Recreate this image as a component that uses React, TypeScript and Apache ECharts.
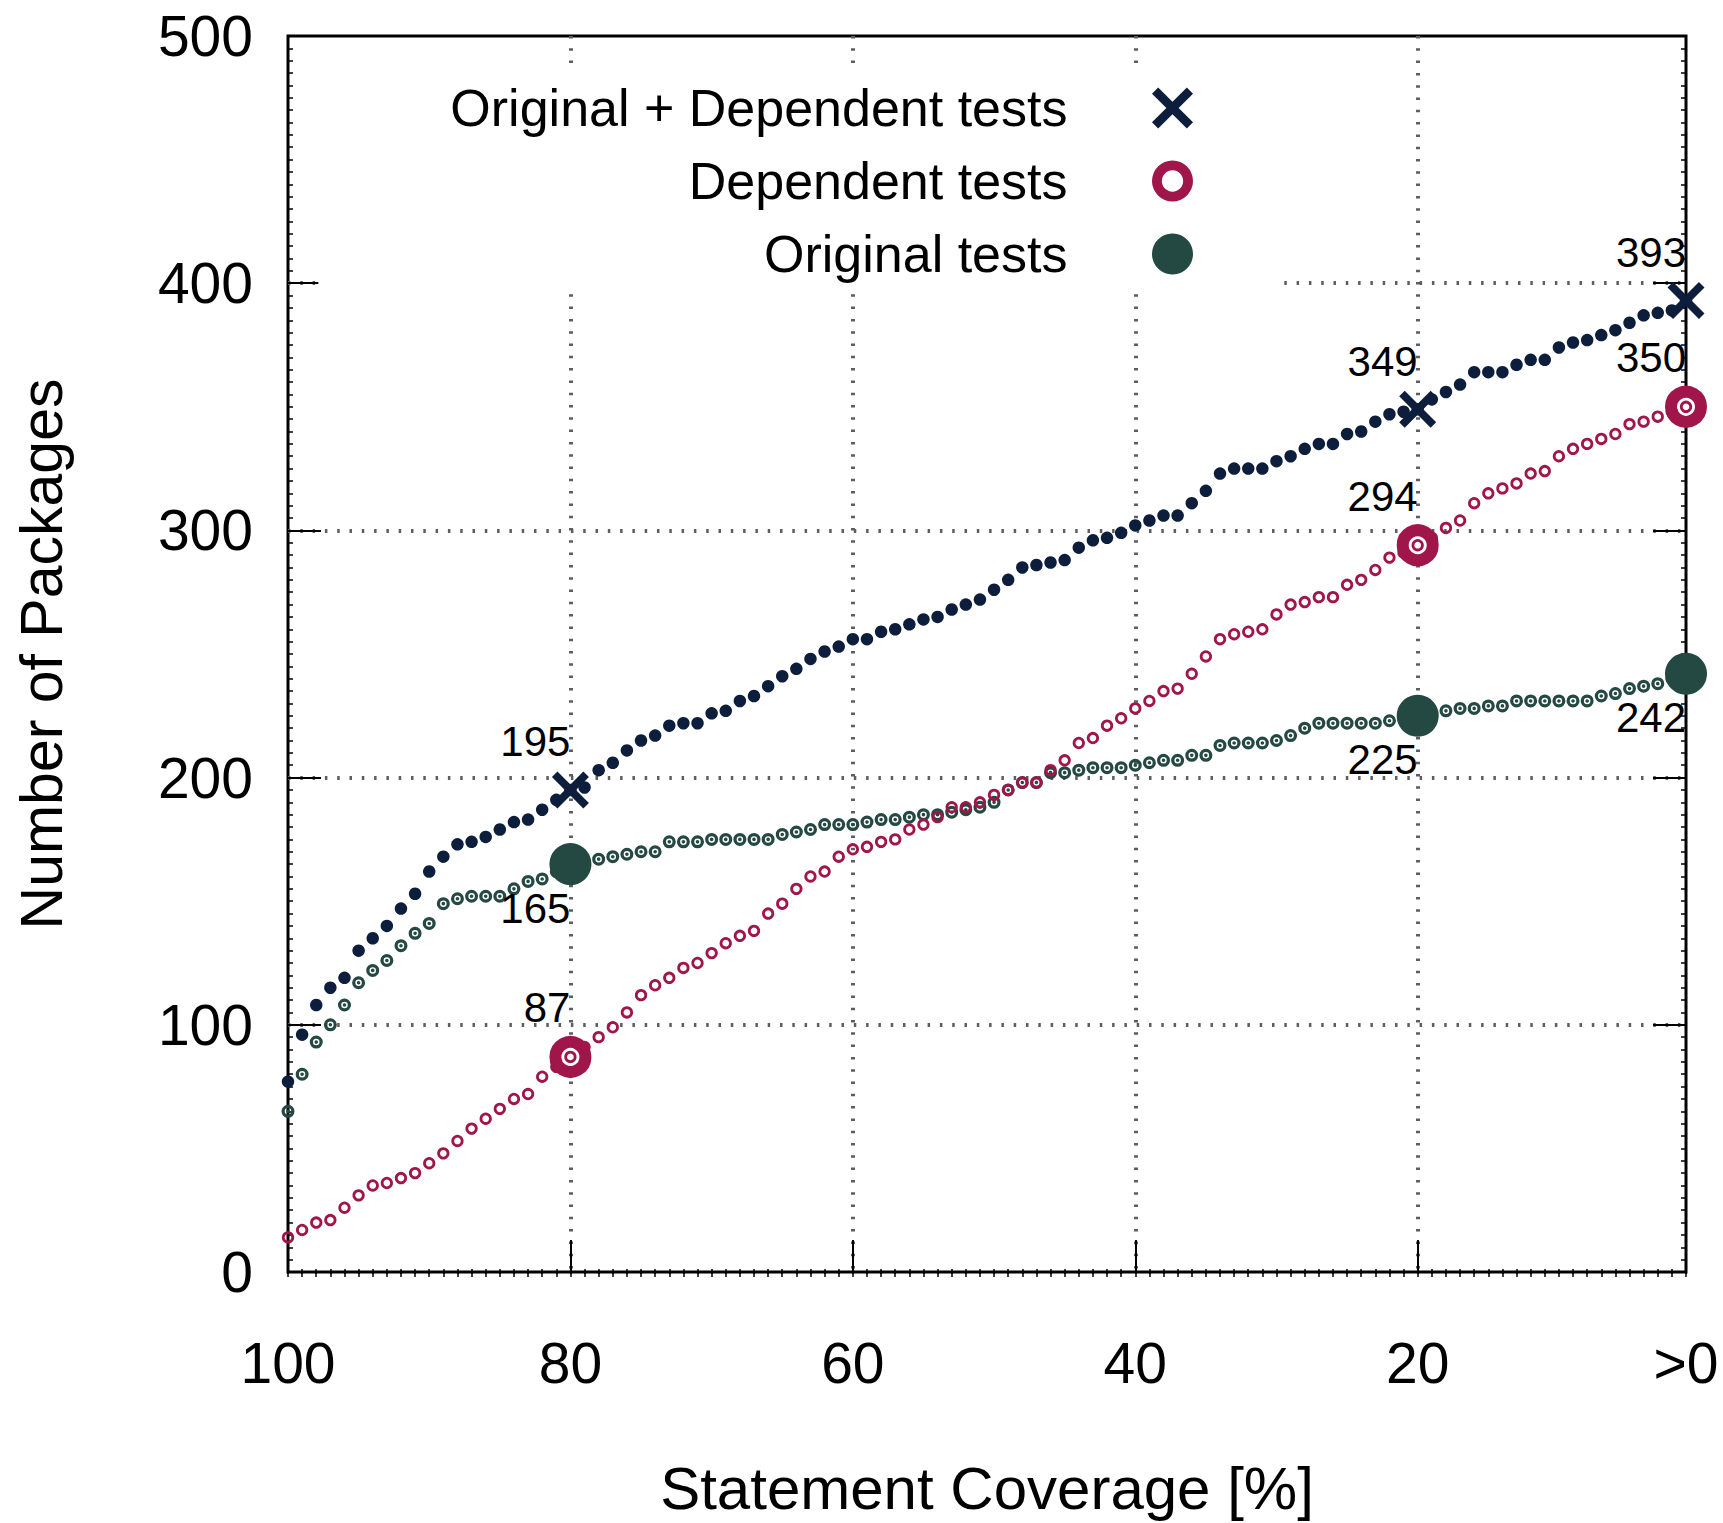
import React, { useEffect, useRef } from "react";
import * as echarts from "echarts";

// Statement coverage (x), from 100 % down to >0 (plotted at 1)
const coverage = [
  100, 99, 98, 97, 96, 95, 94, 93, 92, 91,
  90, 89, 88, 87, 86, 85, 84, 83, 82, 81,
  80, 79, 78, 77, 76, 75, 74, 73, 72, 71,
  70, 69, 68, 67, 66, 65, 64, 63, 62, 61,
  60, 59, 58, 57, 56, 55, 54, 53, 52, 51,
  50, 49, 48, 47, 46, 45, 44, 43, 42, 41,
  40, 39, 38, 37, 36, 35, 34, 33, 32, 31,
  30, 29, 28, 27, 26, 25, 24, 23, 22, 21,
  20, 19, 18, 17, 16, 15, 14, 13, 12, 11,
  10, 9, 8, 7, 6, 5, 4, 3, 2, 1,
];

// Original + Dependent tests
const origDep = [
  77, 96, 108, 115, 119, 130, 135, 140, 147, 153,
  162, 168, 173, 174, 176, 179, 182, 183, 187, 191,
  195, 196, 203, 206, 211, 215, 217, 221, 222, 222,
  226, 227, 231, 233, 237, 241, 244, 248, 251, 253,
  256, 256, 259, 260, 262, 264, 265, 268, 270, 272,
  276, 280, 285, 286, 287, 288, 293, 296, 297, 299,
  302, 304, 306, 306, 311, 316, 323, 325, 325, 325,
  328, 330, 333, 335, 335, 339, 340, 344, 347, 348,
  349, 353, 356, 359, 364, 364, 364, 367, 369, 369,
  374, 376, 377, 379, 381, 384, 387, 388, 389, 393,
];

// Dependent tests
const dep = [
  14, 17, 20, 21, 26, 31, 35, 36, 38, 40,
  44, 48, 53, 58, 62, 66, 70, 72, 79, 83,
  87, 91, 95, 99, 105, 112, 116, 119, 123, 125,
  129, 133, 136, 138, 145, 149, 155, 160, 162, 168,
  171, 172, 174, 175, 179, 181, 184, 188, 188, 190,
  193, 195, 198, 198, 203, 207, 214, 216, 221, 224,
  228, 231, 235, 236, 242, 249, 256, 258, 259, 260,
  266, 270, 271, 273, 273, 278, 280, 284, 289, 291,
  294, 297, 301, 304, 311, 315, 317, 319, 323, 324,
  330, 333, 335, 337, 339, 343, 344, 346, 348, 350,
];

// Original tests
const orig = [
  65, 80, 93, 100, 108, 117, 122, 126, 132, 137,
  141, 149, 151, 152, 152, 152, 155, 158, 159, 162,
  165, 166, 167, 168, 169, 170, 170, 174, 174, 174,
  175, 175, 175, 175, 175, 177, 178, 179, 181, 181,
  181, 182, 183, 183, 184, 185, 185, 186, 187, 188,
  190, 195, 198, 198, 202, 202, 203, 204, 204, 204,
  205, 206, 207, 207, 209, 209, 213, 214, 214, 214,
  215, 217, 220, 222, 222, 222, 222, 222, 223, 224,
  225, 226, 227, 228, 228, 229, 229, 231, 231, 231,
  231, 231, 231, 233, 234, 236, 237, 238, 240, 242,
];

const highlightCoverage = [80, 20, 1];
const xTickValues = [80, 60, 40, 20];
const xLabelValues = [100, 80, 60, 40, 20, 1];
const yMin = 0;
const yMax = 500;
const yInterval = 100;

const NAME_BOTH = "Original + Dependent tests";
const NAME_DEP = "Dependent tests";
const NAME_ORIG = "Original tests";

const NAVY = "#0d1e3d";
const RED = "#a1164a";
const GREEN = "#244842";
const FONT = "'Liberation Sans', Arial, Helvetica, sans-serif";

const X_PATH =
  "path://M0,15L15,0L50,35L85,0L100,15L65,50L100,85L85,100L50,65L15,100L0,85L35,50Z";
const RING_PATH =
  "path://M50,0A50,50,0,1,1,50,100A50,50,0,1,1,50,0ZM50,24A26,26,0,1,0,50,76A26,26,0,1,0,50,24Z";
const DOT_RING_PATH =
  "path://M50,0A50,50,0,1,1,50,100A50,50,0,1,1,50,0ZM50,25A25,25,0,1,0,50,75A25,25,0,1,0,50,25ZM50,36A14,14,0,1,1,50,64A14,14,0,1,1,50,36Z";

const toPairs = (ys: number[]) => coverage.map((x, i) => [x, ys[i]]);
const pick = (ys: number[]) =>
  highlightCoverage.map((x) => [x, ys[coverage.indexOf(x)]]);

const gridRect = { left: 288, right: 37, top: 36, bottom: 249 };
const NO_STROKE = "rgba(0,0,0,0)";

export default function App() {
  const ref = useRef<HTMLDivElement>(null);

  useEffect(() => {
    document.body.style.margin = "0";
    if (!ref.current) return;
    const chart = echarts.init(ref.current, undefined, { renderer: "svg" });

    const gridLine = { color: "#5e5e5e", width: 4, type: [2.5, 9.8] as number[] };
    const labelBase = {
      show: true,
      position: "inside" as const,
      align: "right" as const,
      verticalAlign: "middle" as const,
      fontSize: 42,
      color: "#000",
      opacity: 1,
      fontFamily: FONT,
      formatter: (p: any) => String(p.value[1]),
    };

    const minorX = {
      type: "value" as const,
      min: 1,
      max: 100,
      interval: 1,
      inverse: true,
      axisLine: { show: false },
      axisTick: { show: true, inside: true, length: 5, lineStyle: { color: "#000", width: 1.5 } },
      axisLabel: { show: false },
      splitLine: { show: false },
    };

    const option: any = {
      animation: false,
      backgroundColor: "#fff",
      textStyle: { fontFamily: FONT },
      grid: [
        { ...gridRect, show: true, borderColor: "#000", borderWidth: 3, backgroundColor: "transparent" },
        { ...gridRect, show: false },
      ],
      legend: {
        orient: "vertical",
        align: "right",
        right: 448,
        top: 72,
        padding: [10, 82, 10, 132],
        backgroundColor: "#fff",
        itemWidth: 200,
        itemHeight: 41,
        itemGap: 21,
        symbolKeepAspect: true,
        selectedMode: false,
        textStyle: { fontSize: 52, lineHeight: 48, color: "#000", fontFamily: FONT },
        data: [
          { name: NAME_BOTH, icon: X_PATH, itemStyle: { color: NAVY, borderColor: NO_STROKE, borderWidth: 0, opacity: 1 } },
          { name: NAME_DEP, icon: RING_PATH, itemStyle: { color: RED, borderColor: NO_STROKE, borderWidth: 0, opacity: 1 } },
          { name: NAME_ORIG, icon: "circle", itemStyle: { color: GREEN, borderColor: NO_STROKE, borderWidth: 0, opacity: 1 } },
        ],
      },
      xAxis: [
        {
          type: "value",
          gridIndex: 0,
          position: "bottom",
          min: 1,
          max: 100,
          inverse: true,
          axisLine: { show: false },
          axisTick: {
            show: true,
            inside: true,
            length: 32,
            customValues: xTickValues,
            lineStyle: { color: "#000", width: 2 },
          },
          axisLabel: {
            customValues: xLabelValues,
            formatter: (v: number) => (v === 1 ? ">0" : String(v)),
            margin: 62,
            fontSize: 57,
            color: "#000",
            fontFamily: FONT,
          },
          splitLine: { show: true, lineStyle: gridLine },
          name: "Statement Coverage [%]",
          nameLocation: "middle",
          nameGap: 186,
          nameTextStyle: { fontSize: 60, color: "#000", fontFamily: FONT },
        },
        { ...minorX, gridIndex: 0, position: "top" },
        { ...minorX, gridIndex: 1, position: "bottom" },
      ],
      yAxis: [
        {
          type: "value",
          gridIndex: 0,
          position: "left",
          min: yMin,
          max: yMax,
          interval: yInterval,
          axisLine: { show: false },
          axisTick: { show: true, inside: true, length: 33, lineStyle: { color: "#000", width: 2 } },
          minorTick: { show: true, splitNumber: 20, length: 5, lineStyle: { color: "#000", width: 1.5 } },
          axisLabel: { margin: 35, fontSize: 57, color: "#000", fontFamily: FONT },
          splitLine: { show: true, showMinLine: false, showMaxLine: false, lineStyle: gridLine },
          name: "Number of Packages",
          nameLocation: "middle",
          nameGap: 217,
          nameTextStyle: { fontSize: 59, color: "#000", fontFamily: FONT },
        },
        {
          type: "value",
          gridIndex: 0,
          position: "right",
          min: yMin,
          max: yMax,
          interval: yInterval,
          axisLine: { show: false },
          axisTick: { show: true, inside: true, length: 33, lineStyle: { color: "#000", width: 2 } },
          minorTick: { show: true, splitNumber: 20, length: 5, lineStyle: { color: "#000", width: 1.5 } },
          axisLabel: { show: false },
          splitLine: { show: false },
        },
        { type: "value", gridIndex: 1, min: yMin, max: yMax, show: false },
      ],
      series: [
        {
          name: NAME_BOTH,
          type: "scatter",
          z: 4,
          clip: false,
          symbol: X_PATH,
          symbolSize: 37,
          itemStyle: { color: NAVY, opacity: 1 },
          label: { ...labelBase, offset: [0, -48] },
          data: pick(origDep),
        },
        {
          name: NAME_BOTH,
          type: "scatter",
          z: 3,
          clip: false,
          symbol: "circle",
          symbolSize: 12.5,
          itemStyle: { color: NAVY, opacity: 1 },
          data: toPairs(origDep),
        },
        {
          name: NAME_DEP,
          type: "scatter",
          z: 2,
          clip: false,
          symbol: "circle",
          symbolSize: 30,
          itemStyle: { color: "#fff", borderColor: RED, borderWidth: 12, opacity: 1 },
          label: { ...labelBase, offset: [0, -49] },
          data: pick(dep),
        },
        {
          name: NAME_DEP,
          type: "scatter",
          z: 3,
          clip: false,
          symbol: "circle",
          symbolSize: 9.5,
          itemStyle: { color: "rgba(255,255,255,0)", borderColor: RED, borderWidth: 2.8, opacity: 1 },
          data: toPairs(dep),
        },
        {
          name: NAME_ORIG,
          type: "scatter",
          z: 3,
          clip: false,
          symbol: "circle",
          symbolSize: 42,
          itemStyle: { color: GREEN, opacity: 1 },
          label: { ...labelBase, offset: [0, 44] },
          data: pick(orig),
        },
        {
          name: NAME_ORIG,
          type: "scatter",
          z: 2,
          clip: false,
          symbol: DOT_RING_PATH,
          symbolSize: 13,
          itemStyle: { color: GREEN, opacity: 1 },
          data: toPairs(orig),
        },
      ],
    };

    chart.setOption(option);
    return () => chart.dispose();
  }, []);

  return <div ref={ref} style={{ width: 1723, height: 1523 }} />;
}
